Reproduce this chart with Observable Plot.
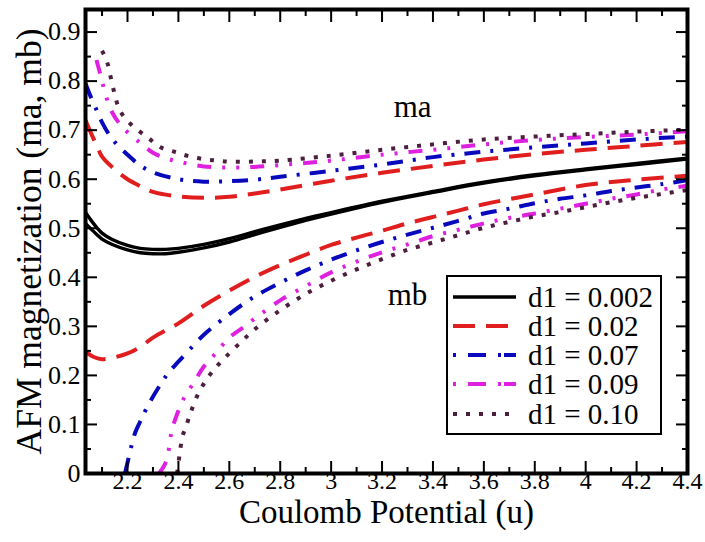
<!DOCTYPE html>
<html>
<head>
<meta charset="utf-8">
<script src="https://cdn.jsdelivr.net/npm/d3@7"></script>
<script src="https://cdn.jsdelivr.net/npm/@observablehq/plot@0.6"></script>
<style>
  html, body { margin: 0; padding: 0; background: #fff; }
  #wrap { position: relative; width: 705px; height: 542px; font-family: "Liberation Serif", "Times New Roman", serif; }
  #wrap svg text { font-family: "Liberation Serif", "Times New Roman", serif; }
  #legend { position: absolute; left: 446px; top: 275px; width: 212px; height: 156px; border: 2px solid #000; background: #fff; }
</style>
</head>
<body>
<div id="wrap"><div id="legend"></div></div>
<script>
// ---- data ----
const seriesNames = ["d1 = 0.002", "d1 = 0.02", "d1 = 0.07", "d1 = 0.09", "d1 = 0.10"];

const u002a = [2.035, 2.06, 2.08, 2.1, 2.14, 2.2, 2.25, 2.3, 2.35, 2.4, 2.5, 2.6, 2.7, 2.8, 2.9, 3.0, 3.2, 3.4, 3.6, 3.8, 4.0, 4.2, 4.4];
const m002a = [0.532, 0.514, 0.501, 0.490, 0.477, 0.465, 0.459, 0.457, 0.457, 0.459, 0.467, 0.479, 0.493, 0.507, 0.520, 0.532, 0.555, 0.575, 0.594, 0.609, 0.621, 0.632, 0.643];
const u002b = [2.035, 2.06, 2.08, 2.1, 2.14, 2.2, 2.25, 2.3, 2.35, 2.4, 2.5, 2.6, 2.7, 2.8, 2.9, 3.0, 3.2, 3.4, 3.6, 3.8, 4.0, 4.2, 4.4];
const m002b = [0.510, 0.497, 0.487, 0.478, 0.467, 0.456, 0.450, 0.448, 0.448, 0.451, 0.460, 0.472, 0.487, 0.502, 0.516, 0.529, 0.553, 0.573, 0.592, 0.607, 0.619, 0.630, 0.641];

const u02a = [2.035, 2.06, 2.08, 2.1, 2.15, 2.2, 2.25, 2.3, 2.4, 2.5, 2.6, 2.7, 2.8, 3.0, 3.2, 3.4, 3.6, 3.8, 4.0, 4.2, 4.4];
const m02a = [0.720, 0.690, 0.668, 0.646, 0.620, 0.600, 0.586, 0.574, 0.565, 0.562, 0.564, 0.571, 0.579, 0.597, 0.613, 0.627, 0.640, 0.651, 0.660, 0.668, 0.676];
const u02b = [2.035, 2.07, 2.1, 2.15, 2.2, 2.25, 2.3, 2.4, 2.5, 2.6, 2.7, 2.8, 2.9, 3.0, 3.1, 3.2, 3.3, 3.4, 3.5, 3.6, 3.8, 4.0, 4.2, 4.4];
const m02b = [0.248, 0.237, 0.233, 0.237, 0.245, 0.258, 0.277, 0.306, 0.342, 0.373, 0.401, 0.425, 0.446, 0.466, 0.481, 0.495, 0.510, 0.523, 0.536, 0.549, 0.569, 0.588, 0.599, 0.607];

const u07a = [2.035, 2.05, 2.075, 2.1, 2.14, 2.2, 2.25, 2.3, 2.4, 2.5, 2.6, 2.7, 2.8, 3.0, 3.2, 3.4, 3.6, 3.8, 4.0, 4.2, 4.4];
const m07a = [0.795, 0.775, 0.745, 0.716, 0.682, 0.650, 0.628, 0.614, 0.600, 0.595, 0.596, 0.599, 0.605, 0.617, 0.630, 0.645, 0.656, 0.665, 0.673, 0.681, 0.687];
const u07b = [2.19, 2.2, 2.21, 2.22, 2.23, 2.25, 2.28, 2.33, 2.36, 2.4, 2.47, 2.5, 2.6, 2.7, 2.8, 2.9, 3.0, 3.1, 3.2, 3.3, 3.4, 3.5, 3.6, 3.7, 3.8, 3.9, 4.0, 4.1, 4.2, 4.3, 4.4];
const m07b = [0.0, 0.022, 0.045, 0.065, 0.083, 0.106, 0.138, 0.182, 0.205, 0.228, 0.267, 0.283, 0.325, 0.361, 0.389, 0.414, 0.436, 0.455, 0.472, 0.487, 0.501, 0.515, 0.530, 0.540, 0.551, 0.560, 0.567, 0.576, 0.583, 0.590, 0.598];

const u09a = [2.078, 2.09, 2.1, 2.115, 2.14, 2.18, 2.25, 2.3, 2.35, 2.4, 2.5, 2.6, 2.7, 2.8, 2.9, 3.0, 3.2, 3.4, 3.6, 3.8, 4.0, 4.2, 4.4];
const m09a = [0.843, 0.820, 0.800, 0.770, 0.736, 0.706, 0.674, 0.654, 0.643, 0.636, 0.626, 0.624, 0.625, 0.629, 0.633, 0.638, 0.650, 0.660, 0.671, 0.680, 0.686, 0.691, 0.698];
const u09b = [2.323, 2.34, 2.355, 2.365, 2.375, 2.4, 2.42, 2.46, 2.5, 2.55, 2.6, 2.66, 2.7, 2.8, 2.9, 3.0, 3.1, 3.2, 3.3, 3.4, 3.5, 3.6, 3.7, 3.8, 3.9, 4.0, 4.1, 4.2, 4.3, 4.4];
const m09b = [0.0, 0.012, 0.030, 0.058, 0.090, 0.128, 0.152, 0.185, 0.218, 0.247, 0.277, 0.300, 0.316, 0.353, 0.382, 0.410, 0.432, 0.451, 0.467, 0.484, 0.497, 0.510, 0.521, 0.530, 0.540, 0.550, 0.560, 0.569, 0.579, 0.587];

const u10a = [2.1, 2.118, 2.134, 2.15, 2.17, 2.215, 2.28, 2.33, 2.39, 2.44, 2.5, 2.55, 2.6, 2.7, 2.8, 3.0, 3.2, 3.4, 3.6, 3.8, 4.0, 4.2, 4.4];
const m10a = [0.862, 0.842, 0.808, 0.773, 0.740, 0.711, 0.685, 0.665, 0.655, 0.647, 0.641, 0.638, 0.636, 0.636, 0.638, 0.648, 0.660, 0.671, 0.681, 0.687, 0.692, 0.697, 0.701];
const u10b = [2.395, 2.405, 2.416, 2.43, 2.45, 2.48, 2.515, 2.55, 2.59, 2.65, 2.7, 2.8, 2.9, 3.0, 3.1, 3.2, 3.3, 3.4, 3.5, 3.6, 3.7, 3.8, 3.9, 4.0, 4.1, 4.2, 4.3, 4.4];
const m10b = [0.0, 0.040, 0.076, 0.096, 0.127, 0.165, 0.195, 0.218, 0.240, 0.270, 0.294, 0.333, 0.366, 0.393, 0.416, 0.437, 0.456, 0.471, 0.486, 0.501, 0.513, 0.524, 0.533, 0.543, 0.553, 0.562, 0.570, 0.578];

const xMajor = [2.2, 2.4, 2.6, 2.8, 3.0, 3.2, 3.4, 3.6, 3.8, 4.0, 4.2, 4.4];
const xTickLabels = ["2.2", "2.4", "2.6", "2.8", "3", "3.2", "3.4", "3.6", "3.8", "4", "4.2", "4.4"];
const xMinor = [2.1, 2.3, 2.5, 2.7, 2.9, 3.1, 3.3, 3.5, 3.7, 3.9, 4.1, 4.3];
const yMajor = [0, 0.1, 0.2, 0.3, 0.4, 0.5, 0.6, 0.7, 0.8, 0.9];
const yTickLabels = ["0", "0.1", "0.2", "0.3", "0.4", "0.5", "0.6", "0.7", "0.8", "0.9"];
const yMinor = [0.05, 0.15, 0.25, 0.35, 0.45, 0.55, 0.65, 0.75, 0.85];

const annText = ["ma", "mb"];
const annU = [3.32, 3.30];
const annM = [0.748, 0.364];

const xTitle = "Coulomb Potential (u)";
const yTitle = "AFM magnetization (ma, mb)";

// ---- styles ----
const serif = "'Liberation Serif', 'Times New Roman', serif";
const styles = [
  {stroke: "#000000", dash: null, width: 3.4},
  {stroke: "#e01e1e", dash: "22,11", width: 4},
  {stroke: "#0808bc", dash: "16,10,3,10", width: 4},
  {stroke: "#e020e0", dash: "14,11,3,11,3,11", width: 4},
  {stroke: "#4d1f3f", dash: "4,9", width: 4}
];

const zip = (u, m) => u.map((x, i) => ({u: x, m: m[i]}));
const curves = [
  [0, zip(u002a, m002a)], [0, zip(u002b, m002b)],
  [1, zip(u02a, m02a)], [1, zip(u02b, m02b)],
  [2, zip(u07a, m07a)], [2, zip(u07b, m07b)],
  [3, zip(u09a, m09a)], [3, zip(u09b, m09b)],
  [4, zip(u10a, m10a)], [4, zip(u10b, m10b)]
];

const lineMarks = curves.map(([k, d]) => Plot.line(d, {
  x: "u", y: "m", curve: "catmull-rom",
  stroke: styles[k].stroke, strokeWidth: styles[k].width,
  strokeDasharray: styles[k].dash, strokeLinecap: "butt", clip: true
}));

const tickStyle = {strokeWidth: 2, stroke: "#000"};
const fmtX = d => xTickLabels[xMajor.indexOf(d)];
const fmtY = d => yTickLabels[yMajor.indexOf(d)];

const chart = Plot.plot({
  width: 705, height: 542,
  marginLeft: 85, marginRight: 18, marginTop: 9, marginBottom: 69,
  x: {domain: [2.035, 4.4]},
  y: {domain: [0, 0.946]},
  style: {fontFamily: serif, background: "white", color: "#000"},
  marks: [
    ...lineMarks,
    Plot.axisX({anchor: "bottom", ticks: xMajor, tickSize: -12, tickPadding: 10, tickFormat: fmtX, fontSize: 24, fontFamily: serif, label: null, ...tickStyle}),
    Plot.axisX({anchor: "bottom", ticks: xMinor, tickSize: -6, text: null, label: null, ...tickStyle}),
    Plot.axisX({anchor: "top", ticks: xMajor, tickSize: -12, text: null, label: null, ...tickStyle}),
    Plot.axisX({anchor: "top", ticks: xMinor, tickSize: -6, text: null, label: null, ...tickStyle}),
    Plot.axisY({anchor: "left", ticks: yMajor, tickSize: -12, tickPadding: 17, tickFormat: fmtY, fontSize: 26, fontFamily: serif, label: null, ...tickStyle}),
    Plot.axisY({anchor: "left", ticks: yMinor, tickSize: -6, text: null, label: null, ...tickStyle}),
    Plot.axisY({anchor: "right", ticks: yMajor, tickSize: -12, text: null, label: null, ...tickStyle}),
    Plot.axisY({anchor: "right", ticks: yMinor, tickSize: -6, text: null, label: null, ...tickStyle}),
    Plot.text(annText, {x: (d, i) => annU[i], y: (d, i) => annM[i], text: d => d, fontSize: 31, fontFamily: serif, fill: "#000"}),
    Plot.text([xTitle], {frameAnchor: "bottom", textAnchor: "middle", lineAnchor: "middle", dy: 39, text: d => d, fontSize: 33, fontFamily: serif, fill: "#000"}),
    Plot.text([yTitle], {frameAnchor: "left", textAnchor: "middle", lineAnchor: "middle", dx: -56, rotate: -90, text: d => d, fontSize: 35.5, fontFamily: serif, fill: "#000"}),
    Plot.frame({stroke: "#000", strokeWidth: 4})
  ]
});
const wrap = document.getElementById("wrap");
wrap.insertBefore(chart, wrap.firstChild);

// ---- legend ----
const lg = d3.select("#legend").append("svg").attr("width", 212).attr("height", 156);
const rowY = [20, 49, 78, 107, 137];
seriesNames.forEach((name, k) => {
  const s = styles[k];
  lg.append("line").attr("x1", 5).attr("x2", 68).attr("y1", rowY[k]).attr("y2", rowY[k])
    .attr("stroke", s.stroke).attr("stroke-width", s.width)
    .attr("stroke-dasharray", k === 2 || k === 3 ? "3,12,18,12,3" : s.dash);
  lg.append("text").attr("x", 80).attr("y", rowY[k]).attr("dy", "0.35em")
    .attr("font-size", 29).attr("font-family", serif)
    .text(name);
});
</script>
</body>
</html>
